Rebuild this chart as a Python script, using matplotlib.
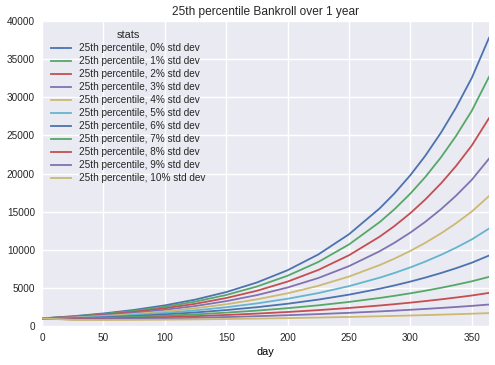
import matplotlib
matplotlib.use("Agg")
import matplotlib.pyplot as plt

# days sampled along the curves
days = [0, 25, 50, 75, 100, 125, 150, 175, 200, 225, 250, 275, 287, 300, 312, 325, 337, 350, 364]

# 25th percentile bankroll, one list per std dev
std0 = [1000, 1282, 1645, 2109, 2705, 3469, 4448, 5705, 7316, 9382, 12032, 15430, 17387, 19788, 22298, 25378, 28596, 32544, 37783]
std1 = [1000, 1239, 1565, 1983, 2518, 3200, 4069, 5178, 6592, 8396, 10695, 13628, 15311, 17371, 19517, 22144, 24883, 28234, 32670]
std2 = [1000, 1194, 1482, 1852, 2321, 2916, 3668, 4620, 5825, 7349, 9278, 11718, 13110, 14807, 16570, 18718, 20951, 23674, 27258]
std3 = [1000, 1148, 1397, 1716, 2119, 2625, 3259, 4053, 5047, 6292, 7852, 9808, 10915, 12258, 13645, 15328, 17068, 19178, 21944]
std4 = [1000, 1100, 1310, 1578, 1915, 2334, 2852, 3494, 4289, 5271, 6486, 7990, 8834, 9852, 10897, 12158, 13452, 15014, 17045]
std5 = [1000, 1053, 1222, 1441, 1714, 2050, 2460, 2962, 3573, 4318, 5228, 6337, 6953, 7689, 8441, 9341, 10258, 11357, 12775]
std6 = [1000, 1005, 1135, 1307, 1520, 1779, 2091, 2467, 2919, 3461, 4111, 4892, 5320, 5828, 6342, 6952, 7569, 8301, 9238]
std7 = [1000, 956, 1048, 1176, 1334, 1524, 1752, 2021, 2338, 2713, 3155, 3676, 3957, 4289, 4621, 5011, 5403, 5863, 6445]
std8 = [1000, 908, 964, 1050, 1159, 1291, 1446, 1627, 1837, 2081, 2363, 2688, 2862, 3065, 3266, 3499, 3731, 4001, 4339]
std9 = [1000, 860, 882, 931, 998, 1079, 1176, 1287, 1415, 1561, 1727, 1914, 2013, 2127, 2238, 2367, 2493, 2639, 2818]
std10 = [1000, 804, 790, 803, 831, 869, 916, 971, 1035, 1107, 1187, 1277, 1324, 1377, 1429, 1488, 1545, 1611, 1690]

series = [std0, std1, std2, std3, std4, std5, std6, std7, std8, std9, std10]
labels = ["25th percentile, %d%% std dev" % i for i in range(11)]

colors = ["#4C72B0", "#55A868", "#C44E52", "#8172B2", "#CCB974", "#64B5CD"]

plt.rcParams["font.family"] = ["Liberation Sans", "DejaVu Sans"]
plt.rcParams["text.color"] = "#262626"
plt.rcParams["xtick.color"] = "#262626"
plt.rcParams["ytick.color"] = "#262626"

fig = plt.figure(figsize=(4.95, 3.65), dpi=100)
ax = fig.add_axes([42 / 495, 1 - 326 / 365, 447 / 495, 305 / 365])
ax.set_facecolor("#EAEAF2")
for s in ax.spines.values():
    s.set_visible(False)
ax.grid(True, color="white", linewidth=1.0)
ax.set_axisbelow(True)

for i, vals in enumerate(series):
    ax.plot(days, vals, color=colors[i % len(colors)], lw=1.3, label=labels[i])

ax.set_xlim(0, 364)
ax.set_ylim(0, 40000)
ax.set_xticks([0, 50, 100, 150, 200, 250, 300, 350])
ax.set_yticks(range(0, 40001, 5000))
ax.tick_params(axis="both", length=0, labelsize=7.2)
ax.tick_params(axis="y", pad=5)
ax.tick_params(axis="x", pad=4.7)

ax.set_xlabel("day", fontsize=7.9, labelpad=3)
ax.set_title("25th percentile Bankroll over 1 year", fontsize=8.6, pad=4)

leg = ax.legend(loc="upper left", title="stats", frameon=False, fontsize=7.2,
                title_fontsize=7.9, labelspacing=0.3)

fig.savefig("out.png", dpi=100)
